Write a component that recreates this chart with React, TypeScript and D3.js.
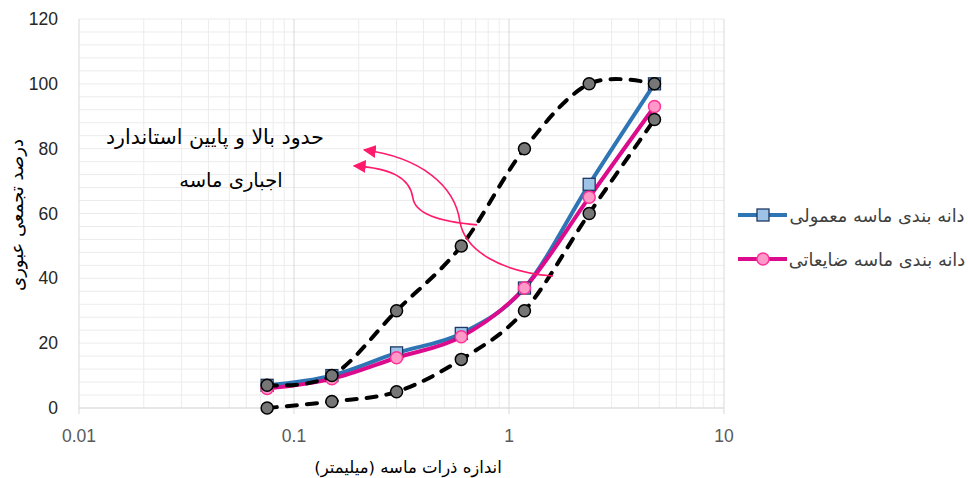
import React from "react";
import * as d3 from "d3";

const sieveSizes = [0.075, 0.15, 0.3, 0.6, 1.18, 2.36, 4.75];
const normalSand = [7, 10, 17, 23, 37, 69, 100];
const wasteSand = [6, 9, 15.5, 22, 37, 65, 93];
const upperLimit = [7, 10, 30, 50, 80, 100, 100];
const lowerLimit = [0, 2, 5, 15, 30, 60, 89];
const yTicks = [0, 20, 40, 60, 80, 100, 120];
const xTicks = [0.01, 0.1, 1, 10];
const xTickLabels = ["0.01", "0.1", "1", "10"];

const seriesNames = ["دانه بندی ماسه معمولی", "دانه بندی ماسه ضایعاتی"];
const annotationLines = ["حدود بالا و پایین استاندارد", "اجباری ماسه"];
const xTitle = "اندازه ذرات ماسه (میلیمتر)";
const yTitle = "درصد تجمعی عبوری";

// annotation arrows in [log10(size), percent]
const arrow1: [number, number][] = [
  [0.205, 40.7], [-0.042, 42.0], [-0.205, 48.7], [-0.228, 57.4],
  [-0.251, 68.8], [-0.414, 77.4], [-0.674, 79.6],
];
const arrow2: [number, number][] = [
  [-0.149, 56.5], [-0.321, 57.4], [-0.437, 59.8], [-0.447, 64.8],
  [-0.46, 70.9], [-0.544, 74.0], [-0.721, 74.7],
];

const W = 968, H = 478;
const L = 79, R = 724, T = 19, B = 408;

export default function App() {
  const x = d3.scaleLog().domain([0.01, 10]).range([L, R]);
  const y = d3.scaleLinear().domain([0, 120]).range([B, T]);
  const minorY = d3.range(0, 121, 4);
  const minorX: number[] = [];
  [0.01, 0.1, 1].forEach((d) => {
    for (let k = 2; k <= 9; k++) minorX.push(d * k);
  });

  const line = d3
    .line<[number, number]>()
    .x((d) => x(d[0]))
    .y((d) => y(d[1]))
    .curve(d3.curveCatmullRom.alpha(0));

  const pts = (vals: number[]) =>
    sieveSizes.map((s, i) => [s, vals[i]] as [number, number]);

  const arrowPath = (p: [number, number][]) => {
    const q = p.map(([lx, v]) => [x(Math.pow(10, lx)), y(v)]);
    return `M${q[0][0]},${q[0][1]} C${q[1][0]},${q[1][1]} ${q[2][0]},${q[2][1]} ${q[3][0]},${q[3][1]} C${q[4][0]},${q[4][1]} ${q[5][0]},${q[5][1]} ${q[6][0]},${q[6][1]}`;
  };

  const blue = "#2E75B6";
  const pink = "#DC0A8C";
  const arabicFont = "'DejaVu Sans', 'Noto Sans', sans-serif";
  const numFont = "'Liberation Sans', Arial, sans-serif";

  return (
    <div style={{ position: "absolute", left: 0, top: 0 }}>
      <svg width={W} height={H} style={{ display: "block", background: "#fff" }}>
        <defs>
          <marker id="ah" viewBox="0 0 10 10" refX="9" refY="5" markerWidth="13" markerHeight="13" markerUnits="userSpaceOnUse" orient="auto">
            <path d="M0,0 L10,5 L0,10 z" fill="#FF1A6C" />
          </marker>
        </defs>
        {/* grid */}
        {minorY.map((v) => (
          <line key={"gy" + v} x1={L} x2={R} y1={y(v)} y2={y(v)} stroke="#ececec" strokeWidth={1} />
        ))}
        {minorX.map((v) => (
          <line key={"gx" + v} x1={x(v)} x2={x(v)} y1={T} y2={B} stroke="#ececec" strokeWidth={1} />
        ))}
        {xTicks.map((v) => (
          <line key={"mx" + v} x1={x(v)} x2={x(v)} y1={T} y2={B + 6} stroke="#d9d9d9" strokeWidth={1} />
        ))}
        <line x1={L} x2={R} y1={B} y2={B} stroke="#d9d9d9" strokeWidth={1} />

        {/* tick labels */}
        {yTicks.map((v) => (
          <text key={"yt" + v} x={58} y={y(v)} dy="0.35em" textAnchor="end" fontFamily={numFont} fontSize={17.5} fill="#262626">
            {v}
          </text>
        ))}
        {xTicks.map((v, i) => (
          <text key={"xt" + v} x={x(v)} y={442} textAnchor="middle" fontFamily={numFont} fontSize={17.5} fill="#595959">
            {xTickLabels[i]}
          </text>
        ))}

        {/* axis titles */}
        <text x={408} y={473} textAnchor="middle" fontFamily={arabicFont} fontSize={16.5} fill="#000" direction="rtl">
          {xTitle}
        </text>
        <text transform={`translate(23,215) rotate(-90)`} textAnchor="middle" fontFamily={arabicFont} fontSize={18} fill="#000" direction="rtl">
          {yTitle}
        </text>

        {/* series lines */}
        <path d={line(pts(normalSand)) || ""} fill="none" stroke={blue} strokeWidth={4} />
        <path d={line(pts(wasteSand)) || ""} fill="none" stroke={pink} strokeWidth={4} />
        {sieveSizes.map((s, i) => (
          <rect key={"sq" + i} x={x(s) - 6} y={y(normalSand[i]) - 6} width={12} height={12} fill="#9DC3E6" stroke="#1F3864" strokeWidth={1.3} />
        ))}
        {sieveSizes.map((s, i) => (
          <circle key={"pc" + i} cx={x(s)} cy={y(wasteSand[i])} r={6} fill="#FF99C8" stroke="#FF3399" strokeWidth={1.5} />
        ))}
        {[upperLimit, lowerLimit].map((vals, k) => (
          <g key={"lim" + k}>
            <path d={line(pts(vals)) || ""} fill="none" stroke="#000" strokeWidth={4} strokeDasharray="10 10" strokeLinecap="round" />
            {sieveSizes.map((s, i) => (
              <circle key={i} cx={x(s)} cy={y(vals[i])} r={6} fill="#767676" stroke="#000" strokeWidth={1.5} />
            ))}
          </g>
        ))}

        {/* annotation */}
        <path d={arrowPath(arrow1)} fill="none" stroke="#FF1A6C" strokeWidth={1.6} markerEnd="url(#ah)" />
        <path d={arrowPath(arrow2)} fill="none" stroke="#FF1A6C" strokeWidth={1.6} markerEnd="url(#ah)" />
        <text x={215} y={144} textAnchor="middle" fontFamily={arabicFont} fontSize={20.5} fill="#000" direction="rtl">
          {annotationLines[0]}
        </text>
        <text x={231} y={187} textAnchor="middle" fontFamily={arabicFont} fontSize={19.5} fill="#000" direction="rtl">
          {annotationLines[1]}
        </text>

        {/* legend */}
        <line x1={738} x2={787} y1={215} y2={215} stroke={blue} strokeWidth={4} />
        <rect x={757} y={209} width={12} height={12} fill="#9DC3E6" stroke="#1F3864" strokeWidth={1.3} />
        <line x1={738} x2={787} y1={259} y2={259} stroke={pink} strokeWidth={4} />
        <circle cx={763} cy={259} r={6} fill="#FF99C8" stroke="#FF3399" strokeWidth={1.5} />
        <text x={877} y={222} textAnchor="middle" fontFamily={arabicFont} fontSize={17.8} fill="#404040" direction="rtl">
          {seriesNames[0]}
        </text>
        <text x={877} y={266} textAnchor="middle" fontFamily={arabicFont} fontSize={17.8} fill="#404040" direction="rtl">
          {seriesNames[1]}
        </text>
      </svg>
    </div>
  );
}
